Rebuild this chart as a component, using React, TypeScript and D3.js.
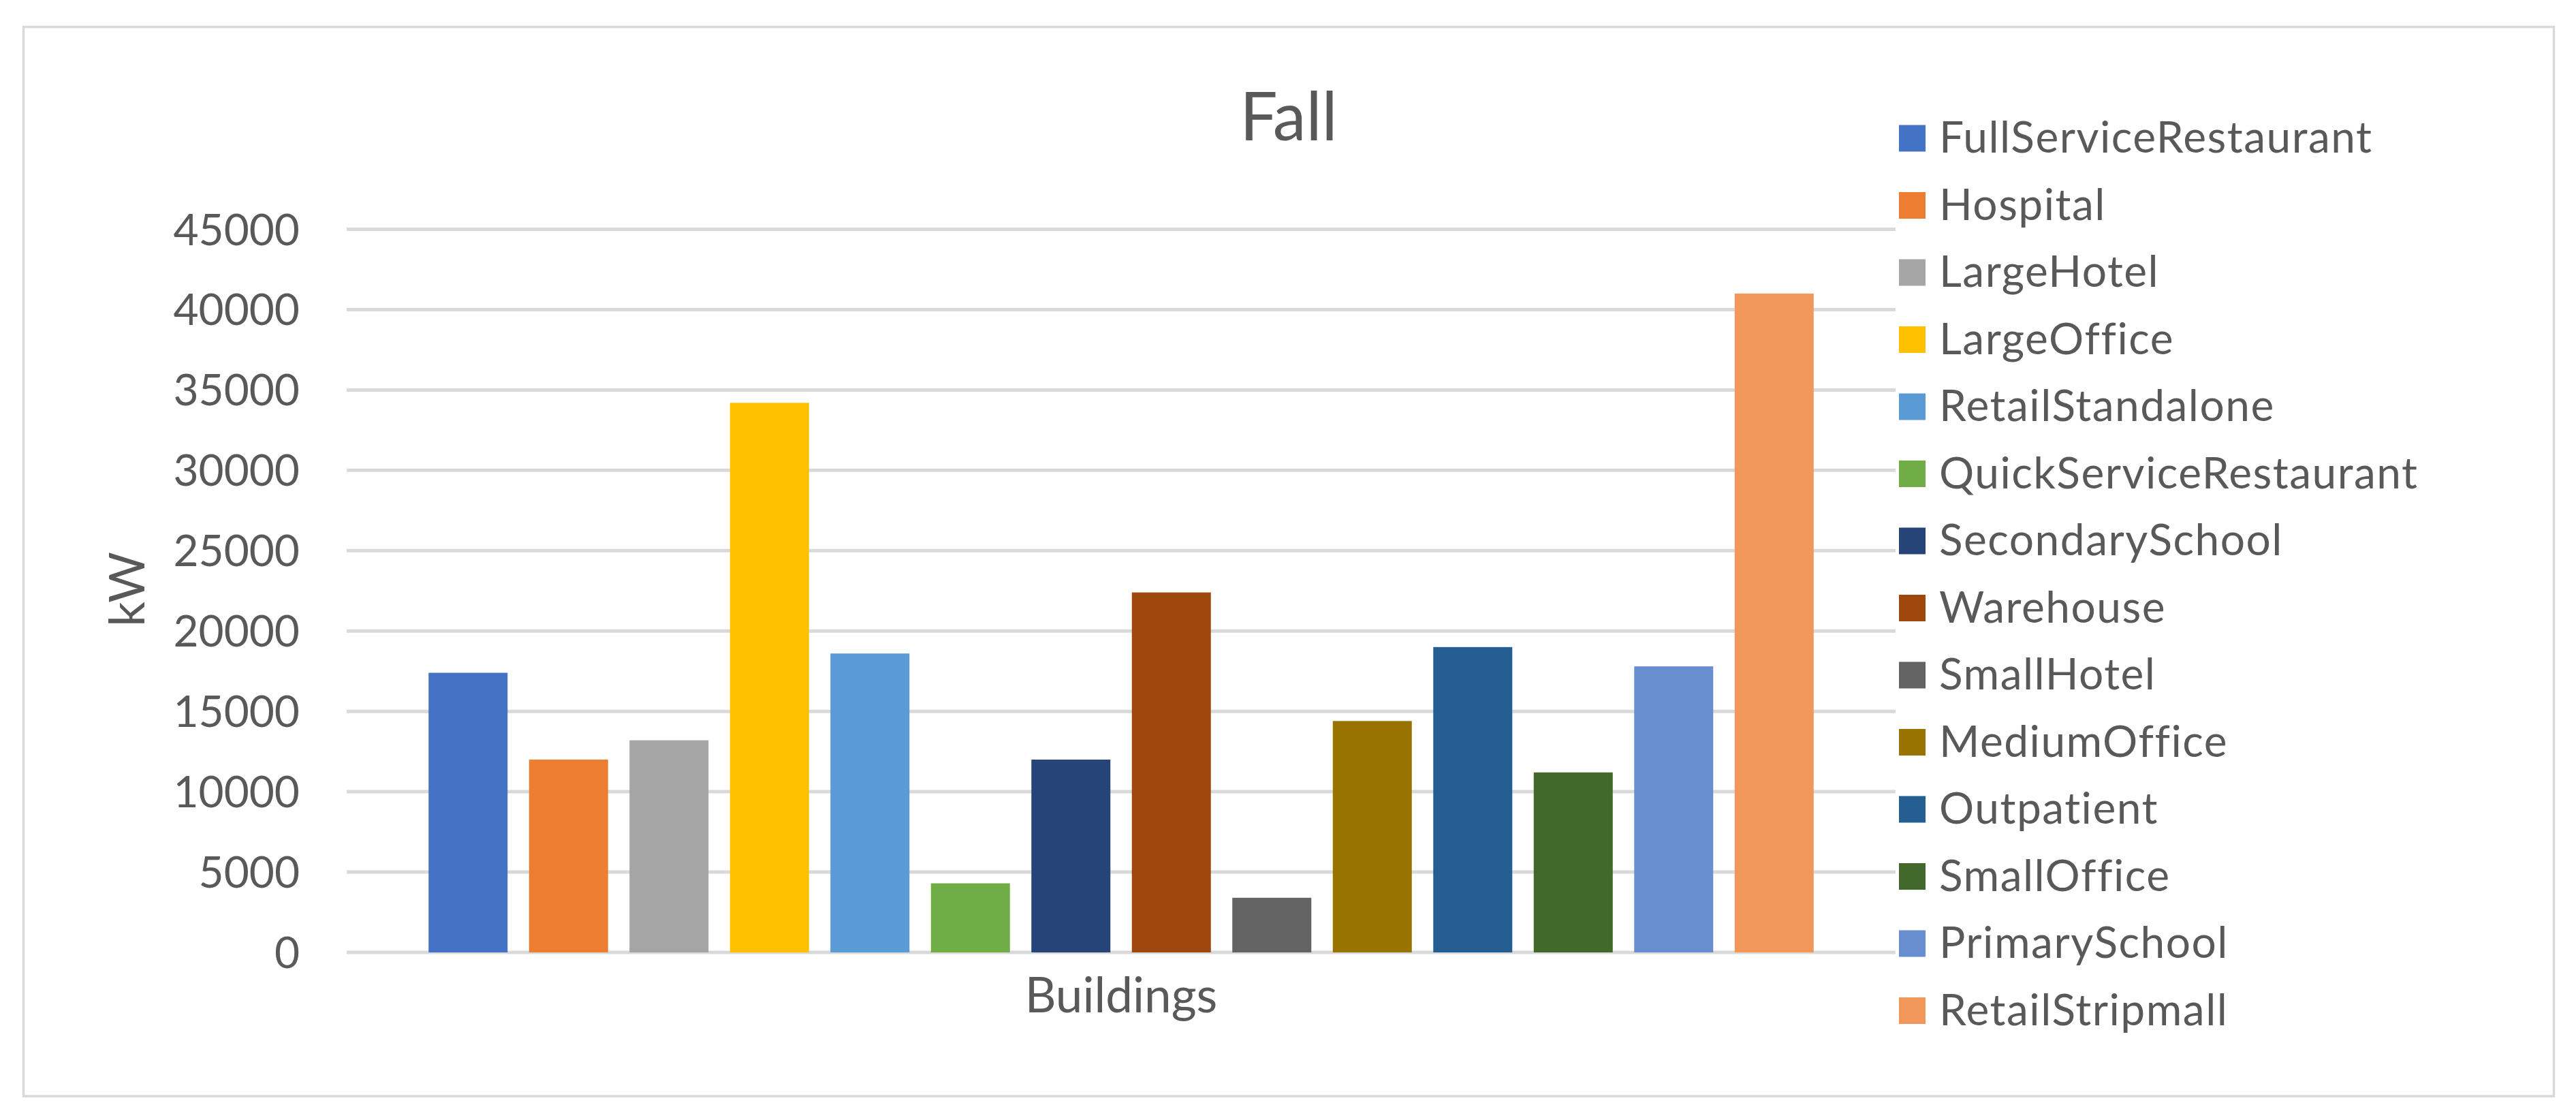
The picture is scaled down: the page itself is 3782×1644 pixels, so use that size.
import React from "react";
import * as d3 from "d3";

const buildings = [
  "FullServiceRestaurant",
  "Hospital",
  "LargeHotel",
  "LargeOffice",
  "RetailStandalone",
  "QuickServiceRestaurant",
  "SecondarySchool",
  "Warehouse",
  "SmallHotel",
  "MediumOffice",
  "Outpatient",
  "SmallOffice",
  "PrimarySchool",
  "RetailStripmall",
];

const fallKW = [17400, 12000, 13200, 34200, 18600, 4300, 12000, 22400, 3400, 14400, 19000, 11200, 17800, 41000];

const colors = [
  "#4472C4", "#ED7D31", "#A5A5A5", "#FFC000", "#5B9BD5", "#70AD47", "#264478",
  "#9E480E", "#636363", "#997300", "#255E91", "#43682B", "#698ED0", "#F1975A",
];

const yTicks = [0, 5000, 10000, 15000, 20000, 25000, 30000, 35000, 40000, 45000];

const W = 3782;
const H = 1644;
const FONT = "Lato, 'Open Sans', sans-serif";
const TEXT = "#595959";
const GRID = "#D9D9D9";

export default function App() {
  const plotLeft = 509;
  const plotRight = 2783;
  const plotTop = 336.5;
  const plotBottom = 1398;

  const y = d3.scaleLinear().domain([0, 45000]).range([plotBottom, plotTop]);
  const x = d3
    .scaleBand<string>()
    .domain(buildings)
    .range([plotLeft, plotRight])
    .paddingInner(0.2136)
    .paddingOuter(0.815);

  const legendX = 2788;
  const legendTop = 203;
  const legendStep = 98.5;
  const sw = 39;

  return (
    <svg
      width={W}
      height={H}
      style={{ position: "absolute", left: 0, top: 0, display: "block", background: "#fff" }}
    >
      <rect x={0} y={0} width={W} height={H} fill="#fff" />
      <rect x={34.5} y={39.5} width={3749.5 - 34.5} height={1609 - 39.5} fill="#fff" stroke={GRID} strokeWidth={3.5} />

      <text x={1892} y={206} textAnchor="middle" fontFamily={FONT} fontSize={98} fill={TEXT}>
        Fall
      </text>

      {yTicks.map((t) => (
        <g key={t}>
          <line x1={plotLeft} x2={plotRight} y1={y(t)} y2={y(t)} stroke={GRID} strokeWidth={5} />
          <text
            x={440}
            y={y(t) + 23}
            textAnchor="end"
            fontFamily={FONT}
            fontSize={64}
            fill={TEXT}
          >
            {t}
          </text>
        </g>
      ))}

      {buildings.map((b, i) => (
        <rect
          key={b}
          x={x(b)}
          y={y(fallKW[i])}
          width={x.bandwidth()}
          height={y(0) - y(fallKW[i])}
          fill={colors[i]}
        />
      ))}

      <text
        transform={`translate(212, 865) rotate(-90)`}
        textAnchor="middle"
        fontFamily={FONT}
        fontSize={72}
        fill={TEXT}
      >
        kW
      </text>

      <text x={(plotLeft + plotRight) / 2} y={1486} textAnchor="middle" fontFamily={FONT} fontSize={71} fill={TEXT}>
        Buildings
      </text>

      {buildings.map((b, i) => {
        const cy = legendTop + i * legendStep;
        return (
          <g key={"lg" + b}>
            <rect x={legendX} y={cy - sw / 2} width={sw} height={sw} fill={colors[i]} />
            <text x={2847} y={cy + 21} fontFamily={FONT} fontSize={64} letterSpacing={1.5} fill={TEXT}>
              {b}
            </text>
          </g>
        );
      })}
    </svg>
  );
}
